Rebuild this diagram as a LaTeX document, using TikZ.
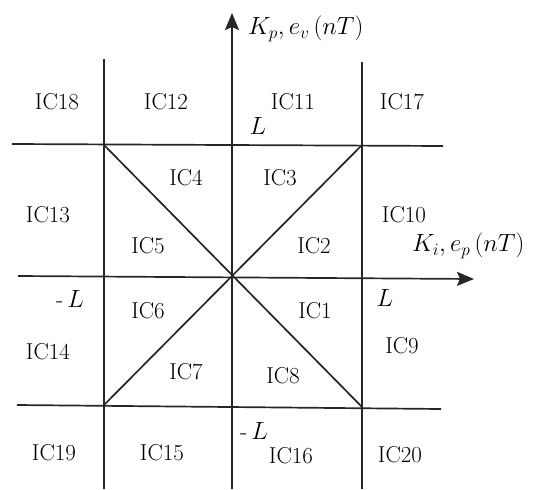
\documentclass[tikz,border=0pt]{standalone}
\usetikzlibrary{arrows.meta}
\begin{document}
\begin{tikzpicture}[x=1pt,y=-1pt,
  ln/.style={line width=1.7pt,black!85},
  ax/.style={ln,-{Stealth[length=17pt,width=14pt,inset=3pt]}},
  lab/.style={font=\fontsize{23}{26}\selectfont,inner sep=0pt},
  mlab/.style={font=\fontsize{24}{27}\selectfont,inner sep=0pt}]
\useasboundingbox (0,0) rectangle (534,489);
% key points
\coordinate (O) at (232,277);
\coordinate (TL) at (104,145);
\coordinate (TR) at (362,145);
\coordinate (BL) at (104,405);
\coordinate (BR) at (362,407);
\coordinate (vTop) at (232,13);
\coordinate (vBot) at (232,489);
\coordinate (lTop) at (104,59);
\coordinate (lBot) at (104,489);
\coordinate (rTop) at (362,62);
\coordinate (rBot) at (362,489);
\coordinate (tL) at (12,144);
\coordinate (tR) at (443,146);
\coordinate (hL) at (18,276);
\coordinate (hR) at (474,279);
\coordinate (bL) at (17,405);
\coordinate (bR) at (441,409);
% lines
\draw[ln] (lTop) -- (lBot);
\draw[ln] (rTop) -- (rBot);
\draw[ln] (tL) -- (tR);
\draw[ln] (bL) -- (bR);
\draw[ln] (TL) -- (BR);
\draw[ln] (TR) -- (BL);
\draw[ax] (vBot) -- (vTop);
\draw[ax] (hL) -- (hR);
% axis labels
\node[mlab,anchor=west] (ky) at (248,29) {$K_p,e_v\left(nT\right)$};
\node[mlab,anchor=west] (kx) at (412,246) {$K_i,e_p\left(nT\right)$};
\node[mlab] (Ltop) at (258,126) {$L$};
\node[mlab] (Lmr) at (70,299) {-\,$L$};
\node[mlab] (Lr) at (385,298) {$L$};
\node[mlab] (Lbot) at (254,431) {-\,$L$};
% regions
\node[lab] (ic18) at (57,102) {IC18};
\node[lab] (ic12) at (166,102) {IC12};
\node[lab] (ic11) at (293,102) {IC11};
\node[lab] (ic17) at (402,102) {IC17};
\node[lab] (ic4) at (186,178) {IC4};
\node[lab] (ic3) at (280,178) {IC3};
\node[lab] (ic13) at (48,215) {IC13};
\node[lab] (ic10) at (404,215) {IC10};
\node[lab] (ic5) at (148,246) {IC5};
\node[lab] (ic2) at (314,246) {IC2};
\node[lab] (ic6) at (148,311) {IC6};
\node[lab] (ic1) at (315,311) {IC1};
\node[lab] (ic14) at (48,352) {IC14};
\node[lab] (ic9) at (402,346) {IC9};
\node[lab] (ic7) at (186,372) {IC7};
\node[lab] (ic8) at (283,376) {IC8};
\node[lab] (ic19) at (54,453) {IC19};
\node[lab] (ic15) at (162,453) {IC15};
\node[lab] (ic16) at (291,456) {IC16};
\node[lab] (ic20) at (400,455) {IC20};
\end{tikzpicture}
\end{document}
